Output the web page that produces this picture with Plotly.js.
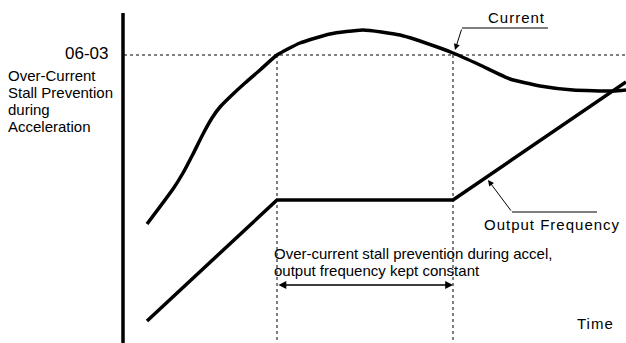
<!DOCTYPE html>
<html>
<head>
<meta charset="utf-8">
<script src="https://cdn.plot.ly/plotly-3.0.1.min.js"></script>
<style>html,body{margin:0;padding:0;background:#fff;}#chart{width:626px;height:343px;}</style>
</head>
<body>
<div id="chart"></div>
<script>
// Time axis (schematic units) and values (schematic units, 0 at bottom)
const currentTime  = [147, 173, 183, 193, 203, 212, 220, 232, 245, 260, 277, 300, 330, 363, 400, 440, 453, 480, 510, 540, 573, 613, 626];
const currentValue = [119, 154, 170, 189, 209, 225, 236, 248, 260, 273, 288, 300, 309, 313, 308, 295, 290, 278, 264, 257, 253, 252, 253];
const freqTime  = [147, 277, 453, 626];
const freqValue = [22, 143, 143, 261];
const stallLevel = 288;          // 06-03 level
const stallStart = 277;          // stall prevention begins
const stallEnd = 453;            // stall prevention ends
const axisTime = 123;
const axisTop = 330;
const levelLabel = "06-03";
const levelDesc = ["Over-Current", "Stall Prevention", "during", "Acceleration"];
const noteLines = ["Over-current stall prevention during accel,", "output frequency kept constant"];

const FONT = "Liberation Sans, Arial, sans-serif";
const black = "#000";
const spaced = (t, s) => '<span style="letter-spacing:' + s + 'px">' + t + '</span>';

const traces = [
  {x: currentTime, y: currentValue, mode: "lines", line: {color: black, width: 3.5, shape: "spline", smoothing: 0.5}, hoverinfo: "skip"},
  {x: freqTime, y: freqValue, mode: "lines", line: {color: black, width: 3.5}, hoverinfo: "skip"},
  // guide lines
  {x: [axisTime + 1, 626], y: [stallLevel, stallLevel], mode: "lines", line: {color: black, width: 1, dash: "dot"}, hoverinfo: "skip"},
  {x: [stallStart, stallStart], y: [stallLevel, 0], mode: "lines", line: {color: black, width: 1, dash: "dot"}, hoverinfo: "skip"},
  {x: [stallEnd, stallEnd], y: [stallLevel, 0], mode: "lines", line: {color: black, width: 1, dash: "dot"}, hoverinfo: "skip"},
  // vertical axis
  {x: [axisTime, axisTime], y: [0, axisTop], mode: "lines", line: {color: black, width: 3.5}, hoverinfo: "skip"}
];

const annotations = [];
annotations.push({x: 110, y: 289.5, xref: "x", yref: "y", text: levelLabel, showarrow: false, xanchor: "right", yanchor: "middle", font: {family: FONT, size: 17, color: black}});
const descY = [268, 250.7, 233.5, 216.3];
levelDesc.forEach((t, i) => annotations.push({x: 6, y: descY[i], xref: "x", yref: "y", text: t, showarrow: false, xanchor: "left", yanchor: "middle", font: {family: FONT, size: 15, color: black}}));
annotations.push({x: 486, y: 326, xref: "x", yref: "y", text: spaced("Current", 1), showarrow: false, xanchor: "left", yanchor: "middle", font: {family: FONT, size: 15, color: black}});
annotations.push({x: 482, y: 119, xref: "x", yref: "y", text: spaced("Output Frequency", 1), showarrow: false, xanchor: "left", yanchor: "middle", font: {family: FONT, size: 15, color: black}});
annotations.push({x: 272, y: 89.5, xref: "x", yref: "y", text: noteLines[0], showarrow: false, xanchor: "left", yanchor: "middle", font: {family: FONT, size: 15, color: black}});
annotations.push({x: 272, y: 73, xref: "x", yref: "y", text: noteLines[1], showarrow: false, xanchor: "left", yanchor: "middle", font: {family: FONT, size: 15, color: black}});
annotations.push({x: 575, y: 20, xref: "x", yref: "y", text: spaced("Time", 1), showarrow: false, xanchor: "left", yanchor: "middle", font: {family: FONT, size: 15, color: black}});
// arrows
annotations.push({x: 455, y: 293, ax: 462, ay: 315, xref: "x", yref: "y", axref: "x", ayref: "y", text: "", showarrow: true, arrowhead: 2, arrowsize: 1.2, arrowwidth: 1, arrowcolor: black});
annotations.push({x: 488, y: 163, ax: 512, ay: 131, xref: "x", yref: "y", axref: "x", ayref: "y", text: "", showarrow: true, arrowhead: 2, arrowsize: 1.2, arrowwidth: 1, arrowcolor: black});
annotations.push({x: stallEnd, y: 58, ax: stallStart, ay: 58, xref: "x", yref: "y", axref: "x", ayref: "y", text: "", showarrow: true, arrowhead: 2, startarrowhead: 2, arrowside: "end+start", arrowsize: 1.2, startarrowsize: 1.2, arrowwidth: 1.3, arrowcolor: black});

const shapes = [
  {type: "line", xref: "x", yref: "y", x0: 462, y0: 315, x1: 548, y1: 315, line: {color: black, width: 1}},
  {type: "line", xref: "x", yref: "y", x0: 512, y0: 131, x1: 597, y1: 131, line: {color: black, width: 1}}
];

const layout = {
  width: 626, height: 343,
  margin: {l: 0, r: 0, t: 0, b: 0, pad: 0},
  paper_bgcolor: "#fff", plot_bgcolor: "#fff",
  showlegend: false, hovermode: false,
  xaxis: {range: [0, 626], visible: false, fixedrange: true},
  yaxis: {range: [0, 343], visible: false, fixedrange: true},
  annotations: annotations,
  shapes: shapes
};
Plotly.newPlot("chart", traces, layout, {staticPlot: true, displayModeBar: false});
</script>
</body>
</html>
